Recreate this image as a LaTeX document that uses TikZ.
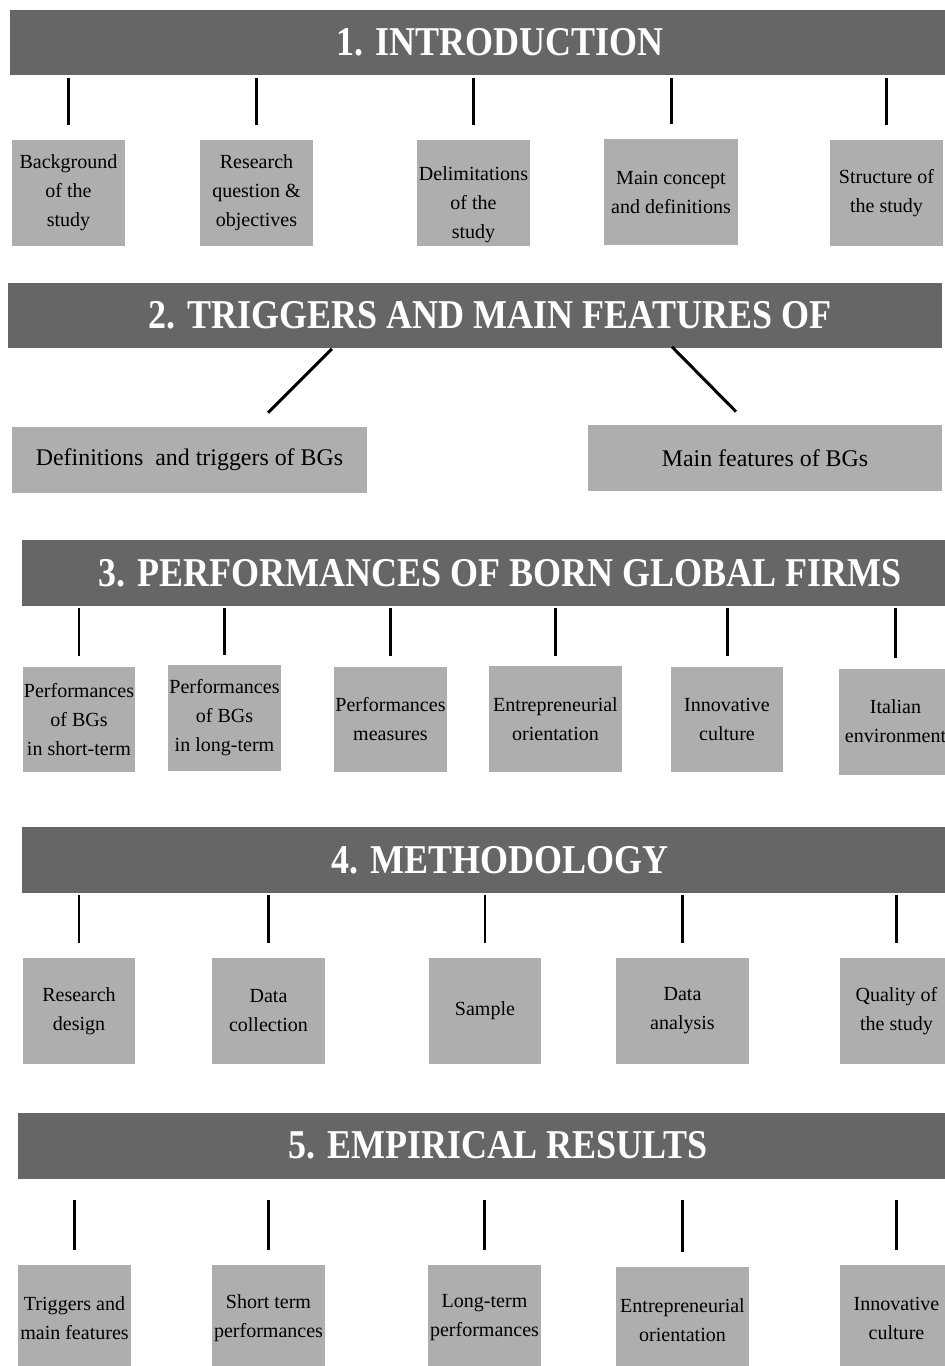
\documentclass[tikz,border=0pt]{standalone}
\usepackage{fontspec}
\setmainfont{Liberation Serif}
\newfontfamily\bodyfont{Liberation Serif}
\newfontfamily\titlefont{Liberation Serif}[FakeStretch=0.88]
\usepackage{xcolor}
\usepackage{tikz}
\usetikzlibrary{positioning,calc}
\definecolor{bannergray}{RGB}{102,102,102}
\definecolor{boxgray}{RGB}{174,174,174}

\begin{document}
\begin{tikzpicture}[x=0.02cm, y=0.02cm,
    banner/.style={fill=bannergray, text=white, minimum height=1.32cm, inner sep=0pt,
        font=\titlefont\bfseries\fontsize{23.3}{28}\selectfont},
    topic/.style={fill=boxgray, minimum width=2.26cm, minimum height=2.12cm, align=center,
        inner sep=0pt, font=\bodyfont\fontsize{11.4}{16.5}\selectfont},
    widetopic/.style={topic, minimum width=2.68cm},
    flat/.style={fill=boxgray, minimum width=7.1cm, minimum height=1.32cm, inner sep=0pt,
        font=\bodyfont\fontsize{13.6}{16}\selectfont},
    link/.style={line width=1.7pt, shorten <=0.04cm, shorten >=0.3cm}]
    \clip (0,0) rectangle (945,-1366);

    % 1. Introduction
    \node[banner, minimum width=19.6cm] (intro) at (500,-42.5) {1. INTRODUCTION};
    \node[topic] (background) at (68.5,-193) {Background\\of the\\study};
    \node[topic] (question) at (256.5,-193) {Research\\question \&\\objectives};
    \node[topic] (delim) at (473.5,-193)
        {\raisebox{-0.32cm}[0pt][0pt]{\begin{tabular}{@{}c@{}}Delimitations\\of the\\study\end{tabular}}};
    \node[widetopic] (concept) at (671,-192) {Main concept\\and definitions};
    \node[topic] (structure) at (886.5,-193) {Structure of\\the study};

    \draw[link] (intro.south -| background.north) -- (background.north);
    \draw[link] (intro.south -| question.north) -- (question.north);
    \draw[link] (intro.south -| delim.north) -- (delim.north);
    \draw[link] (intro.south -| concept.north) -- (concept.north);
    \draw[link] (intro.south -| structure.north) -- (structure.north);

    % 2. Triggers and main features
    \node[banner, minimum width=18.68cm] (trig) at (475,-315.5) {\hspace*{0.6cm}2. TRIGGERS AND MAIN FEATURES OF};
    \node[flat] (defs) at (189.5,-460) {Definitions~ and triggers of BGs};
    \node[flat, minimum width=7.08cm] (feat) at (765,-458) {Main features of BGs};

    \draw[line width=1.7pt] ($(trig.south)+(-143,0)$) -- ($(defs.north)+(78.5,14)$);
    \draw[line width=1.7pt] ($(trig.south)+(197,2)$) -- ($(feat.north)+(-29,13)$);

    % 3. Performances
    \node[banner, minimum width=19.12cm] (perf) at (500,-573) {3. PERFORMANCES OF BORN GLOBAL FIRMS};
    \node[topic] (shortp) at (79,-719.5) {Performances\\of BGs\\in short-term};
    \node[topic] (longp) at (224.5,-718) {Performances\\of BGs\\in long-term};
    \node[topic] (measures) at (390.5,-719.5) {Performances\\measures};
    \node[widetopic] (entre) at (555.5,-719) {Entrepreneurial\\orientation};
    \node[topic] (innov) at (727,-719.5) {Innovative\\culture};
    \node[topic] (italy) at (895.5,-721.5) {Italian\\environment};

    \draw[link, shorten >=0.2cm] (perf.south -| shortp.north) -- (shortp.north);
    \draw[link, shorten >=0.2cm] (perf.south -| longp.north) -- (longp.north);
    \draw[link, shorten >=0.2cm] (perf.south -| measures.north) -- (measures.north);
    \draw[link, shorten >=0.2cm] (perf.south -| entre.north) -- (entre.north);
    \draw[link, shorten >=0.2cm] (perf.south -| innov.north) -- (innov.north);
    \draw[link, shorten >=0.2cm] (perf.south -| italy.north) -- (italy.north);

    % 4. Methodology
    \node[banner, minimum width=19.12cm] (method) at (500,-860) {4. METHODOLOGY};
    \node[topic] (design) at (79,-1011) {Research\\design};
    \node[topic] (collect) at (268.5,-1011) {Data\\collection};
    \node[topic] (sample) at (485,-1011) {Sample};
    \node[widetopic] (analysis) at (682.5,-1011) {Data\\analysis};
    \node[topic] (quality) at (896.5,-1011) {Quality of\\the study};

    \draw[link] (method.south -| design.north) -- (design.north);
    \draw[link] (method.south -| collect.north) -- (collect.north);
    \draw[link] (method.south -| sample.north) -- (sample.north);
    \draw[link] (method.south -| analysis.north) -- (analysis.north);
    \draw[link] (method.south -| quality.north) -- (quality.north);

    % 5. Empirical results
    \node[banner, minimum width=19.2cm] (results) at (498,-1145.5) {5. EMPIRICAL RESULTS};
    \node[topic] (features) at (74.5,-1318) {Triggers and\\main features};
    \node[topic] (shortr) at (268.5,-1318) {Short term\\performances};
    \node[topic] (longr) at (484.5,-1318) {Long-term\\performances};
    \node[widetopic] (orient) at (682.5,-1320) {Entrepreneurial\\orientation};
    \node[topic] (culture) at (896.5,-1318) {Innovative\\culture};

    \draw[link, shorten <=0.42cm] (results.south -| features.north) -- (features.north);
    \draw[link, shorten <=0.42cm] (results.south -| shortr.north) -- (shortr.north);
    \draw[link, shorten <=0.42cm] (results.south -| longr.north) -- (longr.north);
    \draw[link, shorten <=0.42cm] (results.south -| orient.north) -- (orient.north);
    \draw[link, shorten <=0.42cm] (results.south -| culture.north) -- (culture.north);
\end{tikzpicture}
\end{document}
